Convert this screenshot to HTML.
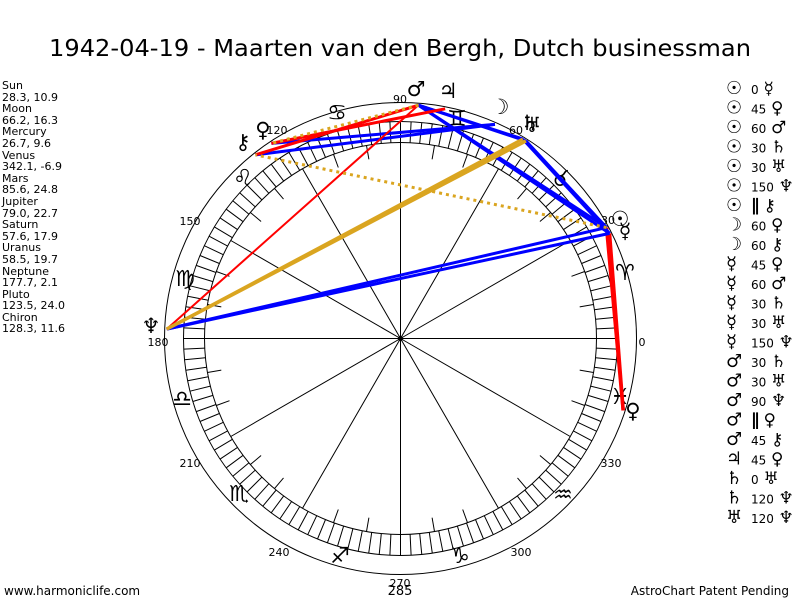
<!DOCTYPE html>
<html><head><meta charset="utf-8">
<style>
html,body{margin:0;padding:0;background:#fff;}
body{width:800px;height:600px;overflow:hidden;position:relative;font-family:"DejaVu Sans","Liberation Sans",sans-serif;}
#left{position:absolute;left:2px;top:80px;font-size:11px;line-height:11.6px;color:#000;}
</style></head><body>
<div id="left">Sun<br>28.3, 10.9<br>Moon<br>66.2, 16.3<br>Mercury<br>26.7, 9.6<br>Venus<br>342.1, -6.9<br>Mars<br>85.6, 24.8<br>Jupiter<br>79.0, 22.7<br>Saturn<br>57.6, 17.9<br>Uranus<br>58.5, 19.7<br>Neptune<br>177.7, 2.1<br>Pluto<br>123.5, 24.0<br>Chiron<br>128.3, 11.6</div>
<svg id="s" width="800" height="600" style="position:absolute;left:0;top:0" xmlns="http://www.w3.org/2000/svg">
<text x="400" y="56" text-anchor="middle" font-family="DejaVu Sans,sans-serif" font-size="23.5" textLength="702" lengthAdjust="spacingAndGlyphs">1942-04-19 - Maarten van den Bergh, Dutch businessman</text>
<text x="4" y="595" font-family="DejaVu Sans,sans-serif" font-size="12">www.harmoniclife.com</text>
<text x="789" y="595" text-anchor="end" font-family="DejaVu Sans,sans-serif" font-size="12">AstroChart Patent Pending</text>
<text x="400" y="595" text-anchor="middle" font-family="DejaVu Sans,sans-serif" font-size="13">285</text>
<g id="g"></g>
</svg>
<script>
var cx=400.5,cy=338.5,R=236,Ro=217,Ri=196;
var ns="http://www.w3.org/2000/svg",g=document.getElementById('g');
function el(t,a,txt){var e=document.createElementNS(ns,t);for(var k in a)e.setAttribute(k,a[k]);if(txt!=null)e.textContent=txt;g.appendChild(e);return e;}
function P(a,r){var t=a*Math.PI/180;return [cx+r*Math.cos(t),cy-r*Math.sin(t)];}
el('circle',{cx:cx,cy:cy,r:R,fill:'none',stroke:'#000','stroke-width':1});
el('circle',{cx:cx,cy:cy,r:Ro,fill:'none',stroke:'#000','stroke-width':1});
el('circle',{cx:cx,cy:cy,r:Ri,fill:'none',stroke:'#000','stroke-width':1});
var d='';
for(var i=0;i<128;i++){var a=i*360/128,p=P(a,Ri),q=P(a,Ro);d+='M'+p[0].toFixed(1)+' '+p[1].toFixed(1)+'L'+q[0].toFixed(1)+' '+q[1].toFixed(1);}
for(var a=0;a<360;a+=10){if(a%30==0){var q=P(a,Ri);d+='M'+cx+' '+cy+'L'+q[0].toFixed(1)+' '+q[1].toFixed(1);}else{var p=P(a,182),q=P(a,Ri);d+='M'+p[0].toFixed(1)+' '+p[1].toFixed(1)+'L'+q[0].toFixed(1)+' '+q[1].toFixed(1);}}
el('path',{d:d,stroke:'#000','stroke-width':1,fill:'none'});
el('circle',{cx:cx,cy:cy,r:2.5,fill:'#000'});
var lab=[[0,642,342],[30,608,220],[60,516,130],[90,400,99],[120,277,130],[150,190,221],[180,158,342],[210,190,463],[240,279,552],[270,400,583],[300,521,552],[330,611,463]];
lab.forEach(function(l){el('text',{x:l[1],y:l[2]+4,'text-anchor':'middle','font-size':11,'font-family':'DejaVu Sans,sans-serif'},String(l[0]));});
var signs='♈♉♊♋♌♍♎♏♐♑♒♓';
var sp=[[625,272],[560,178],[457,118],[337,112],[243,177],[185,278],[182,398],[239,493],[340,555],[460,555],[563,494],[620,396]];
for(var i=0;i<12;i++)el('text',{x:sp[i][0],y:sp[i][1]+8,'text-anchor':'middle','font-size':22,'font-family':'DejaVu Sans,sans-serif'},signs[i]);
var L={Su:28.3,Mo:66.2,Me:26.7,Ve:342.1,Ma:85.6,Ju:79.0,Sa:57.6,Ur:58.5,Ne:177.7,Pl:123.5,Ch:128.3};
var B='#0000ff',Rd='#ff0000',G='#daa520';
var asp=[['Su','Ve',Rd,3.5],['Me','Ve',Rd,3.5],['Su','Ma',B,3],['Me','Ma',B,3],['Su','Sa',B,3],['Su','Ur',B,3],['Me','Sa',B,3],['Me','Ur',B,3],['Su','Ne',B,3],['Me','Ne',B,3],['Mo','Pl',B,3],['Mo','Ch',B,3],['Ma','Sa',B,3],['Ma','Ur',B,3],['Ma','Ne',Rd,2],['Ma','Ch',Rd,3],['Ju','Pl',Rd,3],['Sa','Ne',G,3.5],['Ur','Ne',G,3],['Su','Ch',G,3,1],['Ma','Pl',G,3,1]];
asp.forEach(function(s){var p=P(L[s[0]],R-2),q=P(L[s[1]],R-2);var a={x1:p[0],y1:p[1],x2:q[0],y2:q[1],stroke:s[2],'stroke-width':s[3]};if(s[4])a['stroke-dasharray']='3,4';el('line',a);});
var pg=[['☉',620,218],['☿',625,230],['♀',633,410],['♂',416,88],['♃',448,90],['☽',500,106],['♄',530,122],['♅',532,124],['♆',151,325],['♀',263,129],['⚷',243,141]];
pg.forEach(function(p){el('text',{x:p[1],y:p[2]+8,'text-anchor':'middle','font-size':21,'font-family':'DejaVu Sans,sans-serif'},p[0]);});
var rows=[['☉','0','☿'],['☉','45','♀'],['☉','60','♂'],['☉','30','♄'],['☉','30','♅'],['☉','150','♆'],['☉','∥','⚷'],['☽','60','♀'],['☽','60','⚷'],['☿','45','♀'],['☿','60','♂'],['☿','30','♄'],['☿','30','♅'],['☿','150','♆'],['♂','30','♄'],['♂','30','♅'],['♂','90','♆'],['♂','∥','♀'],['♂','45','⚷'],['♃','45','♀'],['♄','0','♅'],['♄','120','♆'],['♅','120','♆']];
rows.forEach(function(r,i){var y=88+i*19.5+6;
el('text',{x:726,y:y,'font-size':18,'font-weight':'bold','font-family':'DejaVu Sans,sans-serif'},r[0]);
el('text',{x:751,y:y,'font-size':r[1]=='∥'?17:12,'font-weight':r[1]=='∥'?'bold':'normal','font-family':'DejaVu Sans,sans-serif'},r[1]);
var w=r[1].length*7.5+5;
el('text',{x:751+w,y:y,'font-size':17,'font-family':'DejaVu Sans,sans-serif'},r[2]);});
</script>
</body></html>
